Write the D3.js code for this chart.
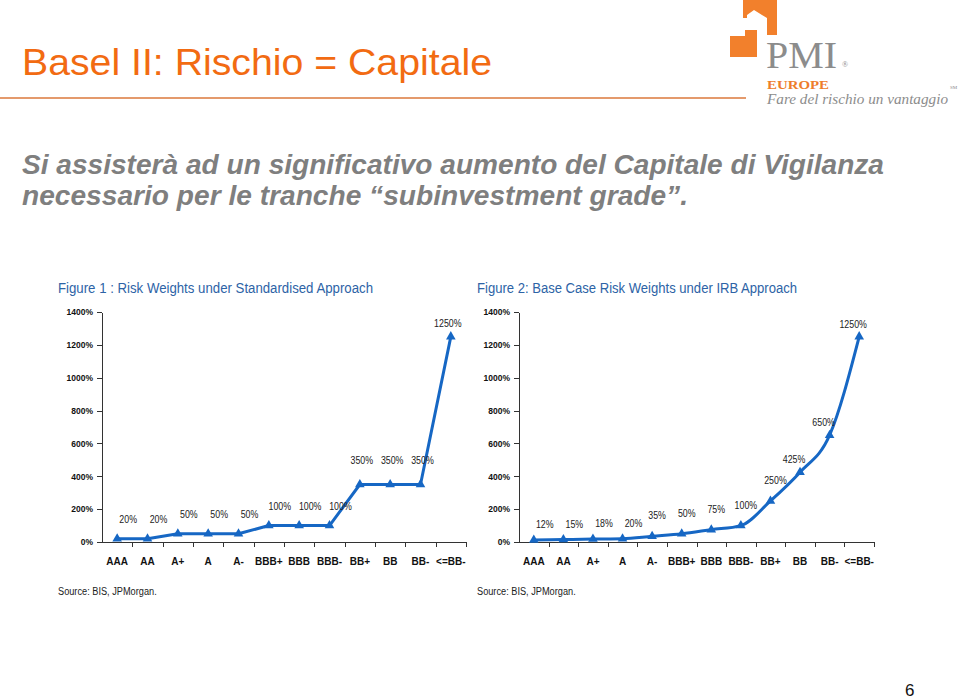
<!DOCTYPE html>
<html>
<head>
<meta charset="utf-8">
<script src="https://cdn.jsdelivr.net/npm/d3@7"></script>
<style>
  body { margin: 0; background: #fff; }
  svg text { font-family: "Liberation Sans", Arial, sans-serif; }
  .axis path, .axis line { stroke: #333; shape-rendering: crispEdges; }
  .yaxis text { font-size: 8.5px; font-weight: bold; fill: #111; }
  .xaxis text { font-size: 10px; font-weight: bold; fill: #111; }
  .vlabel { font-size: 10.5px; fill: #222; }
</style>
</head>
<body>
<svg class="slide" width="959" height="700"></svg>
<script>
var ratings = ["AAA", "AA", "A+", "A", "A-", "BBB+", "BBB", "BBB-", "BB+", "BB", "BB-", "<=BB-"];
var stdWeights = [20, 20, 50, 50, 50, 100, 100, 100, 350, 350, 350, 1250];
var irbWeights = [12, 15, 18, 20, 35, 50, 75, 100, 250, 425, 650, 1250];
var yTicks = [0, 200, 400, 600, 800, 1000, 1200, 1400];

var svg = d3.select("svg.slide");
var orange = "#f26b12", blue = "#1667c4", figBlue = "#2d63a6";

// squeeze a text horizontally, like a narrow font
function narrow(sel, k) {
    sel.each(function () {
        var w = this.getComputedTextLength();
        d3.select(this).attr("textLength", w * k).attr("lengthAdjust", "spacingAndGlyphs");
    });
}

// header
svg.append("text")
    .attr("x", 22).attr("y", 75)
    .attr("textLength", 470).attr("lengthAdjust", "spacingAndGlyphs")
    .style("font-size", "36px").style("fill", orange)
    .text("Basel II: Rischio = Capitale");

svg.append("line")
    .attr("x1", 0).attr("x2", 746).attr("y1", 98).attr("y2", 98)
    .style("stroke", "#e49a6c").style("stroke-width", 2);

// logo
var logo = svg.append("g");
logo.append("path")
    .attr("d", "M743,0H777V35H767V18L754,10L747,15V18H743Z")
    .style("fill", "#f2802c");
logo.append("path")
    .attr("d", "M730,36H745V30H757V57H730Z")
    .style("fill", "#f2802c");
logo.append("text")
    .attr("x", 766).attr("y", 68)
    .attr("textLength", 71).attr("lengthAdjust", "spacingAndGlyphs")
    .style("font-family", "'Liberation Serif', 'DejaVu Serif', serif")
    .style("font-size", "38px").style("fill", "#8c8c8c")
    .text("PMI");
logo.append("text")
    .attr("x", 842).attr("y", 67)
    .style("font-family", "'Liberation Serif', serif")
    .style("font-size", "8px").style("fill", "#8c8c8c")
    .text("®");
logo.append("text")
    .attr("x", 767).attr("y", 89)
    .attr("textLength", 62).attr("lengthAdjust", "spacingAndGlyphs")
    .style("font-family", "'Liberation Serif', serif").style("font-weight", "bold")
    .style("font-size", "12px").style("fill", "#ee7d2a")
    .text("EUROPE");
logo.append("text")
    .attr("x", 767).attr("y", 104)
    .attr("textLength", 181).attr("lengthAdjust", "spacingAndGlyphs")
    .style("font-family", "'Liberation Serif', serif").style("font-style", "italic")
    .style("font-size", "15px").style("fill", "#8c8c8c")
    .text("Fare del rischio un vantaggio");
logo.append("text")
    .attr("x", 950).attr("y", 89)
    .style("font-family", "'Liberation Serif', serif")
    .style("font-size", "5px").style("fill", "#8c8c8c")
    .text("SM");

// subtitle
var sub = [
    { t: "Si assisterà ad un significativo aumento del Capitale di Vigilanza", y: 174, w: 862 },
    { t: "necessario per le tranche \u201csubinvestment grade\u201d.", y: 205, w: 666 }
];
svg.selectAll(".sub").data(sub).enter().append("text")
    .attr("class", "sub")
    .attr("x", 22).attr("y", function (d) { return d.y; })
    .attr("textLength", function (d) { return d.w; }).attr("lengthAdjust", "spacingAndGlyphs")
    .style("font-style", "italic").style("font-weight", "bold")
    .style("font-size", "28px").style("fill", "#7f7f7f")
    .text(function (d) { return d.t; });

svg.append("text")
    .attr("x", 905).attr("y", 696)
    .style("font-size", "17px").style("fill", "#111")
    .text("6");

function drawChart(opts) {
    var g = svg.append("g");
    var x = d3.scaleBand().domain(ratings).range([opts.left, opts.right]);
    var xi = d3.scaleLinear().domain([0, ratings.length]).range([opts.left, opts.right]);
    var y = d3.scaleLinear().domain([0, 1400]).range([542, 312]);

    g.append("text")
        .attr("x", opts.titleX).attr("y", 293)
        .attr("textLength", opts.titleW).attr("lengthAdjust", "spacingAndGlyphs")
        .style("font-size", "14px").style("fill", figBlue)
        .text(opts.title);

    g.append("g").attr("class", "axis yaxis")
        .attr("transform", "translate(" + opts.left + ",0)")
        .call(d3.axisLeft(y).tickValues(yTicks).tickSize(5).tickSizeOuter(0).tickPadding(4)
            .tickFormat(function (d) { return d + "%"; }));

    // boundary ticks on the category axis
    g.append("g").attr("class", "axis")
        .attr("transform", "translate(0,542)")
        .call(d3.axisBottom(xi).tickValues(d3.range(1, ratings.length + 1)).tickSize(5).tickSizeOuter(0)
            .tickFormat(""));

    var xa = g.append("g").attr("class", "axis xaxis")
        .attr("transform", "translate(0,542)")
        .call(d3.axisBottom(x).tickSize(0).tickPadding(16));
    xa.select(".domain").remove();

    var line = d3.line()
        .x(function (d, i) { return x(ratings[i]) + x.bandwidth() / 2; })
        .y(function (d) { return y(d); })
        .curve(opts.curve);

    g.append("path").datum(opts.values)
        .attr("d", line)
        .style("fill", "none").style("stroke", blue).style("stroke-width", 3)
        .style("stroke-linejoin", "round");

    g.selectAll(".pt").data(opts.values).enter().append("path")
        .attr("class", "pt")
        .attr("d", d3.symbol(d3.symbolTriangle, 40))
        .attr("transform", function (d, i) {
            return "translate(" + (x(ratings[i]) + x.bandwidth() / 2) + "," + y(d) + ")";
        })
        .style("fill", blue);

    g.selectAll(".vlabel").data(opts.values).enter().append("text")
        .attr("class", "vlabel")
        .attr("text-anchor", "middle")
        .attr("x", function (d, i) { return x(ratings[i]) + x.bandwidth() / 2 + opts.offset(d)[0]; })
        .attr("y", function (d) { return y(d) + opts.offset(d)[1] + 4; })
        .text(function (d) { return d + "%"; })
        .call(narrow, 0.84);

    g.append("text")
        .attr("x", opts.titleX).attr("y", 595)
        .style("font-size", "10px").style("fill", "#222")
        .text("Source: BIS, JPMorgan.")
        .call(narrow, 0.92);
}

drawChart({
    left: 102, right: 466, titleX: 58, titleW: 315,
    title: "Figure 1 : Risk Weights under Standardised Approach",
    values: stdWeights, curve: d3.curveLinear,
    offset: function (v) { return v < 200 ? [11, -20] : v < 1000 ? [2, -25] : [-3, -14]; }
});

drawChart({
    left: 519, right: 874, titleX: 477, titleW: 320,
    title: "Figure 2: Base Case Risk Weights under IRB Approach",
    values: irbWeights, curve: d3.curveMonotoneX,
    offset: function (v) { return v <= 20 ? [11, -16] : v <= 250 ? [5, -21] : [-6, -13]; }
});
</script>
</body>
</html>
